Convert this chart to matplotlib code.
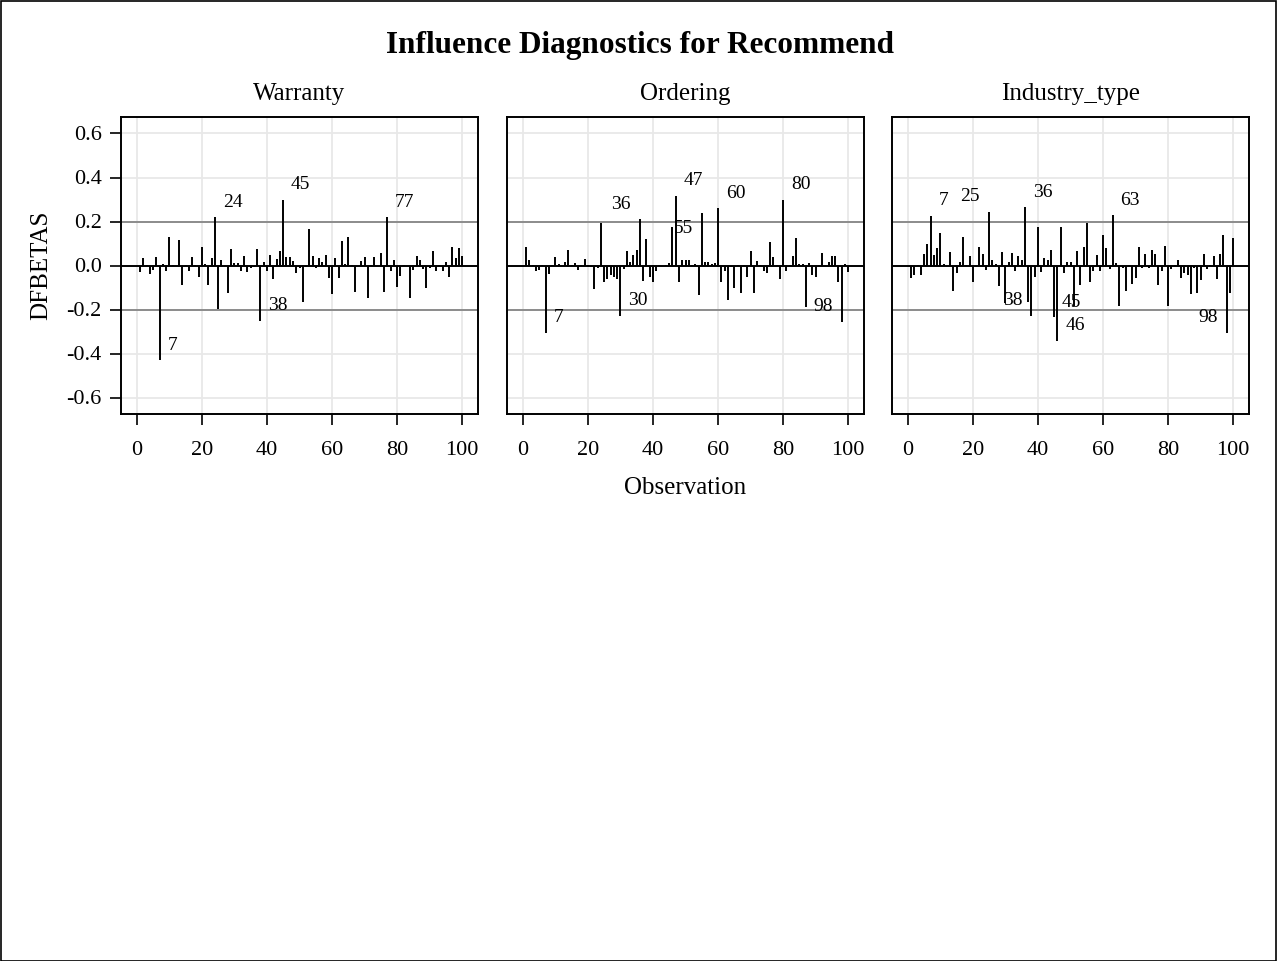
import numpy as np
import matplotlib.pyplot as plt
from matplotlib.patches import Rectangle

plt.rcParams['font.family'] = ['Liberation Serif', 'DejaVu Serif']

obs = np.arange(1, 101)

# DFBETAS per observation, one array per effect
warranty = [
    -0.030, 0.033, 0.004, -0.040, -0.020, 0.040, -0.430, 0.005, -0.025, 0.130,
    0.004, -0.003, 0.117, -0.088, 0.003, -0.027, 0.040, 0.004, -0.050, 0.083,
    0.008, -0.088, 0.033, 0.220, -0.197, 0.023, -0.004, -0.123, 0.074, 0.010,
    0.013, -0.027, 0.044, -0.030, -0.012, -0.006, 0.074, -0.250, 0.015, -0.023,
    0.047, -0.062, 0.030, 0.068, 0.300, 0.040, 0.038, 0.020, -0.035, -0.010,
    -0.168, -0.005, 0.165, 0.045, -0.012, 0.033, 0.015, 0.050, -0.058, -0.130,
    0.033, -0.058, 0.110, 0.008, 0.130, 0.003, -0.120, -0.004, 0.020, 0.040,
    -0.148, 0.003, 0.040, -0.004, 0.056, -0.120, 0.220, -0.027, 0.023, -0.098,
    -0.047, 0.003, -0.004, -0.148, -0.020, 0.044, 0.026, -0.017, -0.103, -0.012,
    0.068, -0.027, 0.003, -0.025, 0.018, -0.050, 0.086, 0.036, 0.079, 0.045,
]
ordering = [
    0.083, 0.026, 0.003, -0.024, -0.020, 0.003, -0.305, -0.038, 0.004, 0.038,
    0.008, -0.003, 0.015, 0.071, 0.003, 0.010, -0.020, 0.003, 0.029, 0.002,
    -0.008, -0.108, -0.012, 0.192, -0.076, -0.062, -0.045, -0.050, -0.060, -0.229,
    -0.017, 0.067, 0.015, 0.048, 0.071, 0.210, -0.070, 0.120, -0.050, -0.073,
    -0.027, 0.003, -0.003, 0.004, 0.010, 0.173, 0.317, -0.077, 0.023, 0.026,
    0.026, 0.003, 0.008, -0.136, 0.238, 0.018, 0.014, 0.006, 0.010, 0.260,
    -0.073, -0.027, -0.159, -0.006, -0.103, 0.003, -0.126, 0.004, -0.050, 0.064,
    -0.123, 0.021, 0.003, -0.027, -0.035, 0.106, 0.038, 0.003, -0.062, 0.300,
    -0.024, 0.004, 0.044, 0.124, 0.006, 0.006, -0.190, 0.010, -0.045, -0.050,
    0.003, 0.056, -0.003, 0.014, 0.045, 0.045, -0.077, -0.256, 0.008, -0.030,
]
industry = [
    -0.058, -0.042, 0.003, -0.045, 0.053, 0.097, 0.227, 0.048, 0.079, 0.150,
    0.006, -0.003, 0.060, -0.114, -0.035, 0.018, 0.129, 0.003, 0.041, -0.073,
    -0.008, 0.082, 0.053, -0.020, 0.244, 0.026, 0.006, -0.095, 0.060, -0.171,
    0.014, 0.056, -0.027, 0.044, 0.023, 0.265, -0.164, -0.229, -0.050, 0.174,
    -0.030, 0.036, 0.026, 0.071, -0.235, -0.342, 0.174, -0.035, 0.018, 0.014,
    -0.186, 0.068, -0.088, 0.086, 0.192, -0.076, -0.027, 0.048, -0.023, 0.138,
    0.079, -0.017, 0.229, 0.010, -0.186, -0.012, -0.118, 0.003, -0.083, -0.058,
    0.083, -0.012, 0.052, -0.012, 0.071, 0.053, -0.088, -0.023, 0.089, -0.186,
    -0.017, 0.003, 0.026, -0.058, -0.032, -0.045, -0.129, -0.012, -0.123, -0.065,
    0.053, -0.017, 0.003, 0.045, -0.062, 0.052, 0.138, -0.305, -0.126, 0.124,
]

panels = ['Warranty', 'Ordering', 'Industry_type']
values = [warranty, ordering, industry]
cutoff = 0.2
# labels moved to the left of their needle (and one below its tip) to avoid overlaps
left_labels = {'Ordering': [36, 55, 98], 'Industry_type': [25, 38, 98]}
below_labels = {'Ordering': [55]}

fig = plt.figure(figsize=(12.78, 9.61), dpi=100)
fig.add_artist(Rectangle((0.0005, 0.0005), 0.998, 0.998, transform=fig.transFigure,
                         fill=False, edgecolor='black', linewidth=1.2))

lefts = [121, 507, 892]
W, H = 357, 297
top = 117
for k, (name, vals) in enumerate(zip(panels, values)):
    ax = fig.add_axes([lefts[k] / 1278, 1 - (top + H) / 961, W / 1278, H / 961])
    vals = np.array(vals)
    ax.set_xlim(-4.9, 104.9)
    ax.set_ylim(-0.675, 0.675)
    ax.set_xticks(np.arange(0, 101, 20))
    ax.set_yticks(np.arange(-0.6, 0.61, 0.2))
    ax.grid(True, color='#e8e8e8', linewidth=1.3)
    ax.set_axisbelow(True)
    ax.axhline(cutoff, color='#8c8c8c', linewidth=1.4, zorder=1)
    ax.axhline(-cutoff, color='#8c8c8c', linewidth=1.4, zorder=1)
    ax.vlines(obs, 0, vals, color='black', linewidth=1.4, zorder=3)
    ax.axhline(0, color='black', linewidth=1.4, zorder=4)

    for i, v in zip(obs, vals):
        if abs(v) > cutoff:
            dy = -0.068 if i in below_labels.get(name, []) else 0.068
            if i in left_labels.get(name, []):
                ax.text(i - 2.8, v + dy, str(i), fontsize=14, ha='right', va='center', zorder=5)
            else:
                ax.text(i + 2.4, v + dy, str(i), fontsize=14, ha='left', va='center', zorder=5)

    ax.set_title(name, fontsize=18, pad=12)
    ax.tick_params(direction='out', length=8, width=1.2, labelsize=16, pad=6)
    ax.tick_params(axis='x', pad=11.5)
    if k == 0:
        ax.set_yticklabels([f'{t:.1f}' for t in np.arange(-0.6, 0.61, 0.2)])
        ax.set_ylabel('DFBETAS', fontsize=18, labelpad=10)
    else:
        ax.tick_params(axis='y', left=False, labelleft=False)
    if k == 1:
        ax.set_xlabel('Observation', fontsize=18, labelpad=12)
    for s in ax.spines.values():
        s.set_linewidth(1.4)

fig.text(0.501, 1 - 45 / 961, 'Influence Diagnostics for Recommend', ha='center', va='center',
         fontsize=22.5, fontweight='bold')

fig.savefig('out.png', dpi=100)
